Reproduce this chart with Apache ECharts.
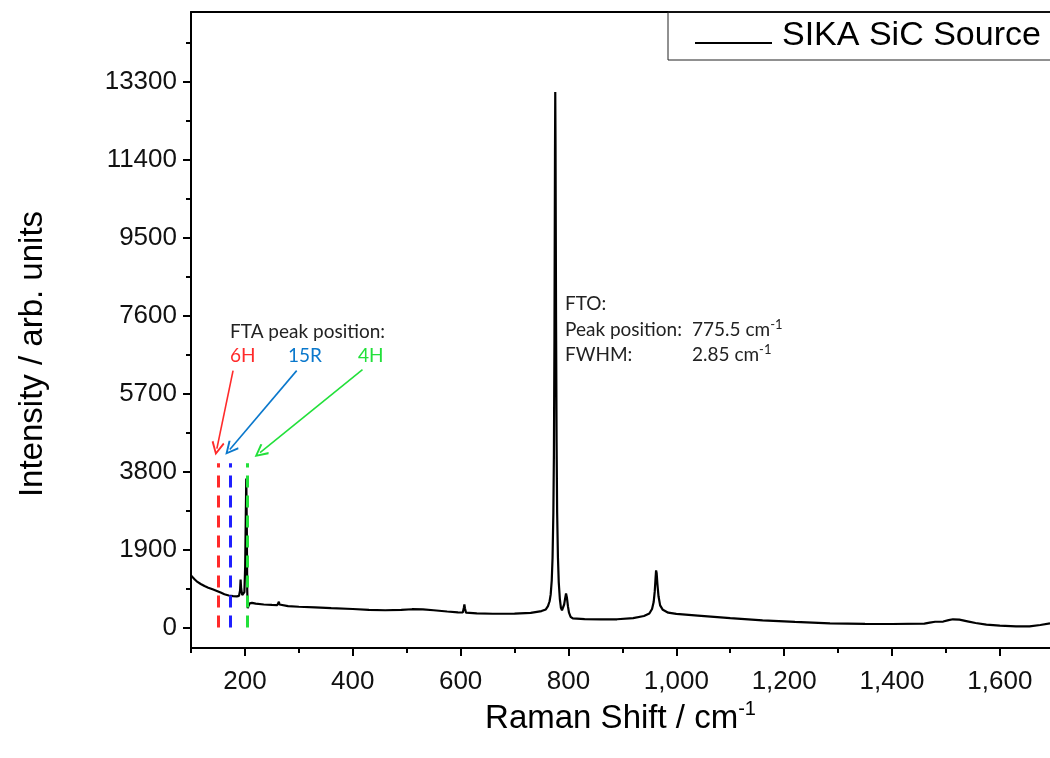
<!DOCTYPE html>
<html>
<head>
<meta charset="utf-8">
<title>SIKA SiC Source - Raman</title>
<script src="https://cdn.jsdelivr.net/npm/echarts@6/dist/echarts.min.js"></script>
<style>
  html, body { margin: 0; padding: 0; background: #fff; }
  #chart { width: 1050px; height: 758px; }
</style>
</head>
<body>
<div id="chart"></div>
<script>
// spectrum (cm-1 / counts)
var shift = [
  100, 103, 107, 112, 118, 125, 132, 140, 148, 155, 162, 170, 178, 185, 189, 191, 192, 193, 195, 197,
  199, 200.5, 201.5, 202.5, 203.5, 204.3, 205.2, 206.5, 209, 213, 220, 235, 250, 260, 262, 263, 264, 266,
  280, 300, 330, 360, 400, 430, 460, 490, 510, 530, 550, 575, 595, 604, 606, 607, 608, 610, 630, 660,
  700, 730, 750, 758, 762, 765, 767, 769, 770.5, 772, 773, 774, 775, 775.5, 776, 777, 778, 779, 780.5,
  782, 784, 786, 788, 790, 792, 794, 795.5, 797, 799, 801, 804, 808, 830, 860, 890, 920, 940, 950, 955,
  958, 960, 961.5, 962.5, 963.5, 965, 967, 970, 975, 985, 1000, 1040, 1100, 1160, 1220, 1285, 1350,
  1400, 1460, 1470, 1480, 1495, 1505, 1513, 1525, 1540, 1555, 1575, 1600, 1630, 1655, 1675, 1693
];
var intensity = [
  1270, 1240, 1170, 1110, 1060, 1010, 970, 930, 890, 850, 810, 780, 765, 760, 770, 900, 1170, 950, 790, 800,
  860, 1500, 2600, 3630, 2400, 900, 470, 520, 590, 600, 580, 560, 550, 545, 560, 630, 560, 540,
  520, 505, 490, 470, 450, 430, 420, 430, 445, 440, 420, 390, 370, 365, 480, 560, 470, 360, 345, 335,
  340, 355, 400, 440, 520, 640, 800, 1150, 1700, 2800, 4200, 7000, 11500, 13050, 11800, 7500, 4500, 2800, 1700,
  1100, 700, 480, 420, 450, 560, 720, 830, 740, 520, 360, 260, 220, 205, 200, 200, 230, 280, 340, 450,
  620, 880, 1200, 1390, 1330, 1050, 760, 540, 430, 360, 330, 290, 230, 175, 135, 100, 90,
  85, 95, 120, 140, 145, 180, 200, 190, 150, 110, 70, 45, 25, 25, 60, 100
];

var xTicks = [200, 400, 600, 800, 1000, 1200, 1400, 1600];
var xMinorTicks = [100, 300, 500, 700, 900, 1100, 1300, 1500];
var yTicks = [0, 1900, 3800, 5700, 7600, 9500, 11400, 13300];
var yMinorTicks = [950, 2850, 4750, 6650, 8550, 10450, 12350, 14250];

// FTA polytype markers
var ftaNames = ['6H', '15R', '4H'];
var ftaPos = [150, 172, 203.5];
var ftaTop = 4000;
var ftaLineColors = ['#ff2a2a', '#1f1fff', '#22e03a'];
var ftaTextColors = ['#ff2a2a', '#0a78cc', '#22e03a'];
var arrowFrom = [[178, 6260], [296, 6260], [418, 6285]];
var arrowTo = [[148, 4360], [172, 4340], [228, 4260]];

var spectrum = shift.map(function (x, i) { return [x, intensity[i]]; });

var dashLines = ftaPos.map(function (x, i) {
  return [
    { coord: [x, 0], lineStyle: { color: ftaLineColors[i], width: 3, type: [12, 8] } },
    { coord: [x, ftaTop] }
  ];
});
var arrows = arrowFrom.map(function (p, i) {
  return [
    { coord: p, lineStyle: { color: ftaTextColors[i], width: 1.6, type: 'solid' } },
    { coord: arrowTo[i] }
  ];
});

var axisFont = 'Liberation Sans';
var noteFont = 'Lato';
// value with a superscript "-1"
var unitRich = {
  n: { fontSize: 19, fontFamily: noteFont, fill: '#222', color: '#222', lineHeight: 24, verticalAlign: 'middle' },
  s: { fontSize: 13, fontFamily: noteFont, fill: '#222', color: '#222', lineHeight: 13, verticalAlign: 'top' }
};

var chart = echarts.init(document.getElementById('chart'));
var option = {
  backgroundColor: '#fff',
  animation: false,
  grid: { left: 191, right: 0, top: 12, bottom: 110 },
  legend: {
    // line sample sits a bit below the text middle, like the original
    data: [{ name: 'SIKA SiC Source', icon: 'path://M0,0 L77,0 L77,0.001 Z M0,14 L77,14 L77,16 L0,16 Z' }],
    left: 668,
    top: 12,
    padding: [7, 40, 7, 27],
    itemWidth: 77,
    itemHeight: 16,
    borderColor: '#222',
    borderWidth: 1,
    textStyle: { fontSize: 34, fontFamily: axisFont, color: '#000', padding: [0, 0, 0, 5] }
  },
  xAxis: [
    {
      type: 'value', min: 100, max: 1693, position: 'bottom',
      name: 'Raman Shift / cm{s|-1}',
      nameLocation: 'middle',
      nameGap: 34,
      nameTextStyle: {
        fontSize: 33, fontFamily: axisFont, color: '#000',
        rich: { s: { fontSize: 20, fontFamily: axisFont, color: '#000', padding: [0, 0, 18, 0] } }
      },
      axisLine: { onZero: false, lineStyle: { color: '#000', width: 2 } },
      axisTick: { customValues: xTicks, length: 8, lineStyle: { color: '#000', width: 2 } },
      axisLabel: {
        customValues: xTicks, margin: 21, fontSize: 26, fontFamily: axisFont, color: '#111',
        formatter: function (v) { return v.toLocaleString('en-US'); }
      },
      splitLine: { show: false }
    },
    {
      type: 'value', min: 100, max: 1693, position: 'bottom',
      axisLine: { show: false, onZero: false },
      axisTick: { customValues: xMinorTicks, length: 5, lineStyle: { color: '#000', width: 2 } },
      axisLabel: { show: false },
      splitLine: { show: false }
    },
    {
      type: 'value', min: 100, max: 1693, position: 'top',
      axisLine: { onZero: false, lineStyle: { color: '#000', width: 2 } },
      axisTick: { show: false },
      axisLabel: { show: false },
      splitLine: { show: false }
    }
  ],
  yAxis: [
    {
      type: 'value', min: -500, max: 15000, position: 'left',
      name: 'Intensity / arb. units',
      nameLocation: 'middle',
      nameGap: 142,
      nameTextStyle: { fontSize: 33, fontFamily: axisFont, color: '#000', padding: [0, 48, 0, 0] },
      axisLine: { show: true, onZero: false, lineStyle: { color: '#000', width: 2 } },
      axisTick: { show: true, customValues: yTicks, length: 8, lineStyle: { color: '#000', width: 2 } },
      axisLabel: {
        customValues: yTicks, margin: 14, fontSize: 26, fontFamily: axisFont, color: '#111',
        formatter: function (v) { return String(v); }
      },
      splitLine: { show: false }
    },
    {
      type: 'value', min: -500, max: 15000, position: 'left',
      axisLine: { show: false, onZero: false },
      axisTick: { show: true, customValues: yMinorTicks, length: 5, lineStyle: { color: '#000', width: 2 } },
      axisLabel: { show: false },
      splitLine: { show: false }
    }
  ],
  series: [
    {
      name: 'SIKA SiC Source',
      type: 'line',
      data: spectrum,
      symbol: 'none',
      color: '#000',
      lineStyle: { color: '#000', width: 2.2 },
      markLine: {
        silent: true,
        symbol: 'none',
        label: { show: false },
        data: dashLines
      }
    },
    {
      name: 'arrows',
      type: 'line',
      data: [],
      markLine: {
        silent: true,
        symbol: ['none', 'path://M5,0 L10,10 L8.8,11 L5,3.2 L1.2,11 L0,10 Z'],
        symbolSize: [13, 14],
        label: { show: false },
        data: arrows
      }
    }
  ],
  graphic: [
    { type: 'text', left: 230, top: 322, style: { text: 'FTA peak position:', font: '19px ' + noteFont, fill: '#222' } },
    { type: 'text', left: 230, top: 346, style: { text: ftaNames[0], font: '19px ' + noteFont, fill: ftaTextColors[0] } },
    { type: 'text', left: 288, top: 346, style: { text: ftaNames[1], font: '19px ' + noteFont, fill: ftaTextColors[1] } },
    { type: 'text', left: 358, top: 346, style: { text: ftaNames[2], font: '19px ' + noteFont, fill: ftaTextColors[2] } },
    { type: 'text', left: 565, top: 294, style: { text: 'FTO:', font: '19px ' + noteFont, fill: '#222' } },
    { type: 'text', left: 565, top: 320, style: { text: 'Peak position:', font: '19px ' + noteFont, fill: '#222' } },
    { type: 'text', left: 565, top: 345, style: { text: 'FWHM:', font: '19px ' + noteFont, fill: '#222' } },
    { type: 'text', left: 692, top: 318, style: { text: '{n|775.5 cm}{s|-1}', rich: unitRich } },
    { type: 'text', left: 692, top: 343, style: { text: '{n|2.85 cm}{s|-1}', rich: unitRich } }
  ]
};
chart.setOption(option);
</script>
</body>
</html>
